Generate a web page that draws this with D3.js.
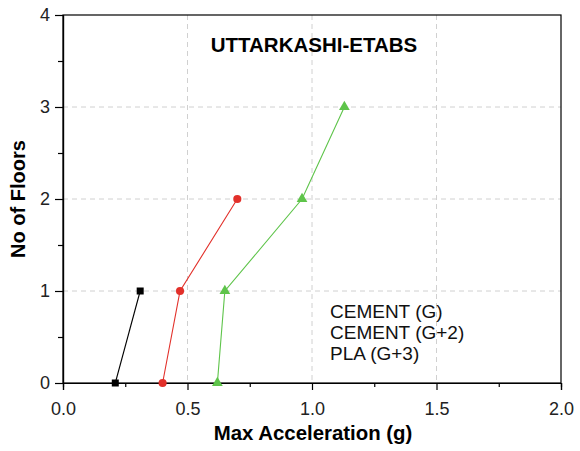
<!DOCTYPE html>
<html>
<head>
<meta charset="utf-8">
<script src="https://cdn.jsdelivr.net/npm/d3@7"></script>
<style>
  body { margin: 0; background: #fff; }
  text { font-family: "Liberation Sans", Arial, sans-serif; }
</style>
</head>
<body>
<div id="chart"></div>
<script>
// data
const seriesNames = ["CEMENT (G)", "CEMENT (G+2)", "PLA (G+3)"];
const cementG = [[0.21, 0], [0.31, 1]];
const cementG2 = [[0.40, 0], [0.47, 1], [0.70, 2]];
const plaG3 = [[0.62, 0], [0.65, 1], [0.96, 2], [1.13, 3]];
const xTicks = [0, 0.5, 1.0, 1.5, 2.0];
const yTicks = [0, 1, 2, 3, 4];

const width = 580, height = 451;
const margin = { top: 15, right: 19, bottom: 68, left: 63 };
const innerW = width - margin.left - margin.right;
const innerH = height - margin.top - margin.bottom;

const svg = d3.select("#chart").append("svg")
  .attr("width", width).attr("height", height);
const g = svg.append("g").attr("transform", `translate(${margin.left},${margin.top})`);

const x = d3.scaleLinear().domain([0, 2]).range([0, innerW]);
const y = d3.scaleLinear().domain([0, 4]).range([innerH, 0]);

// grid
g.append("g").selectAll("line").data(xTicks.filter(d => d > 0 && d < 2)).join("line")
  .attr("x1", d => x(d)).attr("x2", d => x(d)).attr("y1", 0).attr("y2", innerH)
  .attr("stroke", "#d0d0d0").attr("stroke-dasharray", "5,4");
g.append("g").selectAll("line").data(yTicks.filter(d => d > 0 && d < 4)).join("line")
  .attr("y1", d => y(d)).attr("y2", d => y(d)).attr("x1", 0).attr("x2", innerW)
  .attr("stroke", "#d0d0d0").attr("stroke-dasharray", "5,4");

// frame
g.append("rect").attr("width", innerW).attr("height", innerH)
  .attr("fill", "none").attr("stroke", "#000").attr("stroke-width", 1.2);

// axes
g.append("g").attr("transform", `translate(0,${innerH})`)
  .call(d3.axisBottom(x).tickValues(xTicks).tickFormat(d3.format(".1f")).tickSize(7).tickPadding(12));
g.append("g").attr("transform", `translate(0,${innerH})`)
  .call(d3.axisBottom(x).tickValues([0.25, 0.75, 1.25, 1.75]).tickFormat("").tickSize(4));
g.append("g")
  .call(d3.axisLeft(y).tickValues(yTicks).tickFormat(d3.format("d")).tickSize(8).tickPadding(5));
g.append("g")
  .call(d3.axisLeft(y).tickValues([0.5, 1.5, 2.5, 3.5]).tickFormat("").tickSize(5));
g.selectAll(".domain").attr("stroke", "#000").attr("stroke-width", 1.2);
g.selectAll(".tick line").attr("stroke", "#000").attr("stroke-width", 1.2);
g.selectAll(".tick text").attr("font-size", 18).attr("fill", "#222")
  .style("font-family", "'Liberation Sans', Arial, sans-serif");

// series
const series = [
  { data: cementG, color: "#000000", shape: d3.symbolSquare, size: 49 },
  { data: cementG2, color: "#e2302a", shape: d3.symbolCircle, size: 52 },
  { data: plaG3, color: "#5ec44a", shape: d3.symbolTriangle, size: 50 }
];
const line = d3.line().x(d => x(d[0])).y(d => y(d[1]));
series.forEach(s => {
  g.append("path").datum(s.data).attr("d", line)
    .attr("fill", "none").attr("stroke", s.color).attr("stroke-width", 1.1);
  g.selectAll(null).data(s.data).join("path")
    .attr("transform", d => `translate(${x(d[0])},${y(d[1])})`)
    .attr("d", d3.symbol(s.shape, s.size))
    .attr("fill", s.color);
});

// title
g.append("text").attr("x", x(1.008)).attr("y", 52 - margin.top)
  .attr("text-anchor", "middle").attr("font-size", 20.5).attr("font-weight", "bold")
  .text("UTTARKASHI-ETABS");

// legend (text only)
g.selectAll(".leg").data(seriesNames).join("text")
  .attr("x", 330 - margin.left).attr("y", (d, i) => 318 + i * 21 - margin.top)
  .attr("font-size", 19).attr("fill", "#111").text(d => d);

// axis titles
svg.append("text").attr("x", 313).attr("y", 440)
  .attr("text-anchor", "middle").attr("font-size", 20.4).attr("font-weight", "bold")
  .text("Max Acceleration (g)");
svg.append("text").attr("transform", `translate(25,${margin.top + innerH / 2}) rotate(-90)`)
  .attr("text-anchor", "middle").attr("font-size", 20).attr("font-weight", "bold")
  .text("No of Floors");
</script>
</body>
</html>
